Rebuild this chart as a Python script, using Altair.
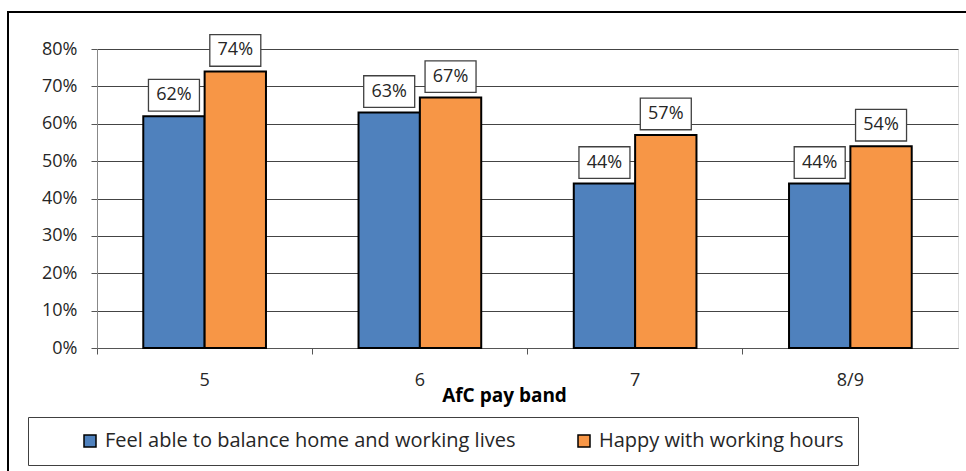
import altair as alt
import pandas as pd

bands = ["5", "6", "7", "8/9"]
balance = [0.62, 0.63, 0.44, 0.44]
hours = [0.74, 0.67, 0.57, 0.54]
series = ["Feel able to balance home and working lives", "Happy with working hours"]
colors = ["#4F81BD", "#F79646"]
y_ticks = [0, 0.1, 0.2, 0.3, 0.4, 0.5, 0.6, 0.7, 0.8]

rows = []
for i, b in enumerate(bands):
    rows.append({"band": b, "series": series[0], "value": balance[i]})
    rows.append({"band": b, "series": series[1], "value": hours[i]})
df = pd.DataFrame(rows)

FONT = "Open Sans"
TXT = "#262626"
W, H = 861, 299

x = alt.X(
    "band:N", sort=bands,
    scale=alt.Scale(paddingInner=0.43, paddingOuter=0.215),
    axis=alt.Axis(
        title="AfC pay band", labelAngle=0, bandPosition=-0.377, tickSize=6,
        tickColor="#555", domainColor="#555", labelPadding=17,
        labelFont=FONT, labelFontSize=18, labelColor=TXT,
        titleFont=FONT, titleFontSize=19, titleFontWeight="bold", titleColor="#000",
        titleX=407, titleY=47, titleAlign="center", titleBaseline="middle",
    ),
)
xo = alt.XOffset("series:N", sort=series)
y = alt.Y(
    "value:Q",
    scale=alt.Scale(domain=[0, 0.8]),
    axis=alt.Axis(
        title=None, format=".0%", values=y_ticks, tickSize=6, tickColor="#555",
        domainColor="#888", gridColor="#444", labelPadding=14,
        labelFont=FONT, labelFontSize=18, labelColor=TXT,
    ),
)
color = alt.Color(
    "series:N", sort=series,
    scale=alt.Scale(domain=series, range=colors),
    legend=alt.Legend(
        title=" ", titleOrient="left", titlePadding=38, titleFontSize=10,
        orient="none", legendX=-69, legendY=368, direction="horizontal",
        strokeColor="#404040", padding=14, labelFont=FONT, labelFontSize=20,
        labelColor=TXT, symbolType="square", symbolSize=144, symbolStrokeColor="black",
        symbolStrokeWidth=1.5, columnPadding=58, labelOffset=5, fillColor="white",
        labelLimit=0,
    ),
)

base = alt.Chart(df)
bars = base.mark_bar(stroke="black", strokeWidth=2).encode(x=x, xOffset=xo, y=y, color=color)
boxes = base.mark_point(
    shape="M-1,-0.62H1V0.62H-1Z", size=2600, filled=True, fill="white",
    stroke="#404040", strokeWidth=1.3, opacity=1, yOffset=-21,
).encode(x=x, xOffset=xo, y=y)
labels = base.mark_text(
    font=FONT, fontSize=18, color=TXT, dy=-21, baseline="middle",
).encode(x=x, xOffset=xo, y=y, text=alt.Text("value:Q", format=".0%"))

frame = alt.Chart(pd.DataFrame({"f": [0]})).mark_rect(
    fillOpacity=0, stroke="black", strokeWidth=2,
).encode(x=alt.value(-89), x2=alt.value(W + 40), y=alt.value(-37), y2=alt.value(H + 160))

chart = alt.layer(frame, bars, boxes, labels).properties(
    width=W, height=H,
    autosize=alt.AutoSizeParams(type="none"),
    padding={"left": 97, "top": 49, "right": 8, "bottom": 123},
).configure_view(stroke="#888", strokeWidth=1).configure(background="white")

chart.save("out.html", embed_options={"renderer": "svg", "actions": False})
